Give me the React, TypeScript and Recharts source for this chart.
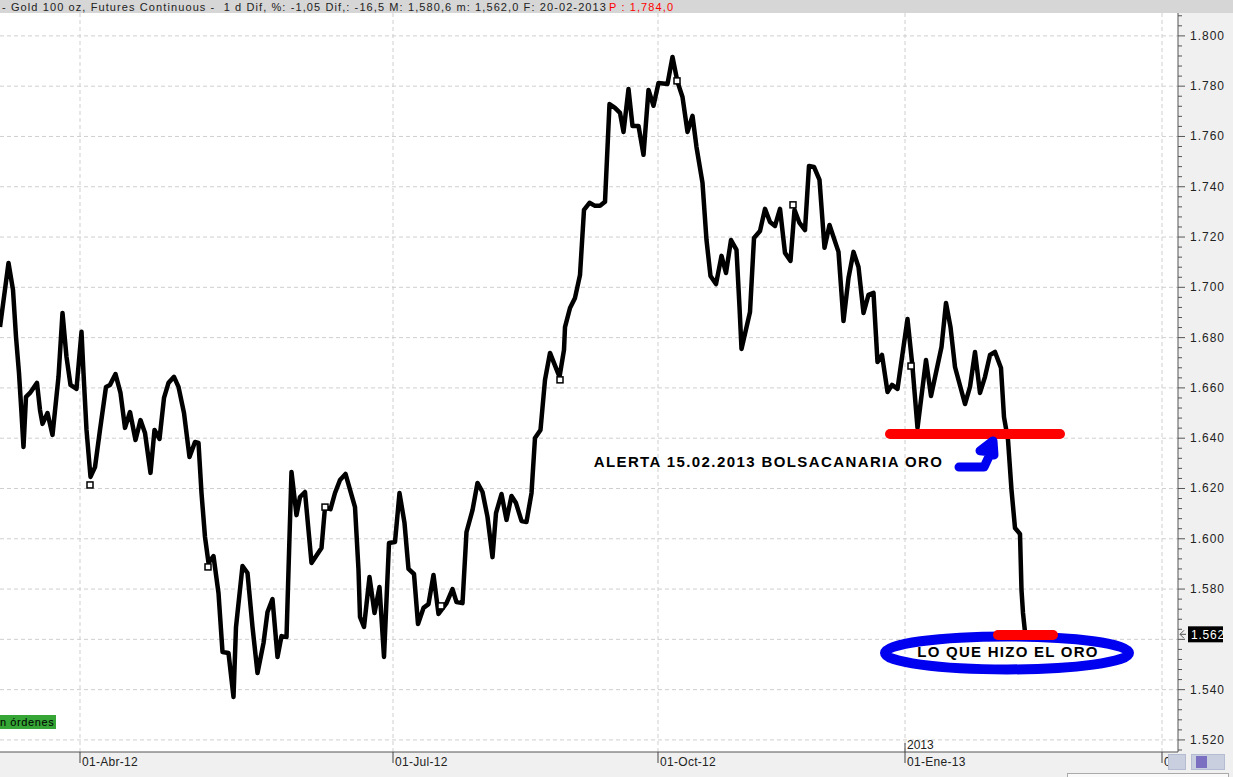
import React from "react";
import {
    ComposedChart, Line, XAxis, YAxis, CartesianGrid, ReferenceDot
} from "recharts";

// session position of every turning point of the close line
const sessions = [
    0, 1.7, 2.6, 3.2, 3.8, 4.3, 4.7, 5.2, 6, 7.4,
    8, 8.5, 9.5, 10.5, 11.7, 12.5, 13.3, 14.1, 15.3, 16.3,
    16.7, 17.3, 18.1, 19, 20, 21.2, 22, 23.1, 24.1, 25,
    26, 27.1, 28.1, 29, 30.1, 30.9, 31.9, 32.8, 33.7, 34.8,
    35.7, 36.8, 37.9, 39, 39.7, 40.3, 41, 41.7, 42.7, 43.7,
    44.5, 45.7, 46.7, 47.2, 48.5, 49.5, 50.5, 51.5, 52.7, 53.5,
    54.5, 55.5, 56.3, 57.3, 57.9, 58.3, 59.3, 60, 61, 62.3,
    64.3, 65, 66.1, 67, 68, 69.1, 71, 71.7, 72, 72.8,
    73.9, 74.9, 75.9, 76.8, 77.8, 79, 79.9, 80.9, 81.7, 82.8,
    83.6, 84.7, 85.7, 86.7, 87.7, 89.3, 90.5, 91.3, 92.5, 93.3,
    94.5, 95.5, 96.5, 97.5, 98.5, 99.2, 100.3, 101.3, 102.3, 103.2,
    104.3, 105.3, 106.3, 107, 108.1, 109, 110, 111.9, 112.8, 113,
    114, 115, 116, 116.8, 117.9, 119, 120, 121, 121.9, 123,
    124, 124.7, 125.7, 126.5, 127.7, 128.7, 129.7, 130.7, 131.7, 133.5,
    134.5, 135.5, 136.5, 137.5, 138.5, 139.3, 140.5, 141.3, 142.1, 143.2,
    144.3, 145.2, 146.2, 147.3, 147.9, 148.3, 150, 150.8, 152, 153,
    154, 155, 156, 157, 158.1, 158.9, 159.9, 161, 161.8, 162.8,
    163.9, 164.9, 165.9, 167.7, 168.7, 169.7, 170.7, 171.7, 172.7, 173.7,
    174.7, 175.5, 176.4, 177.5, 178.4, 179.5, 181.5, 182.5, 183.5, 185.2,
    186.2, 188.3, 189.2, 190.1, 191, 193, 194, 195, 196, 197,
    198, 199, 200.2, 200.8, 201.6, 202.3, 203, 204, 204.3, 204.6,
    205,
];

const prices = [
    1684.2, 1709.7, 1699, 1680.3, 1665.9, 1650, 1636.5, 1656.4, 1658, 1662,
    1651.2, 1645.7, 1650, 1641.3, 1664.4, 1689.8, 1672.3, 1661.2, 1659.6, 1682.3,
    1665.9, 1643.3, 1624.6, 1628.5, 1643.3, 1660.4, 1661.2, 1665.5, 1658, 1644.1,
    1650.4, 1639.3, 1647.2, 1642.1, 1626.2, 1643.3, 1639.7, 1656, 1662, 1664.4,
    1660.4, 1650, 1632.5, 1638.5, 1638.1, 1618.2, 1600.7, 1590.4, 1593.1, 1578.4,
    1555, 1554.6, 1537.1, 1564.9, 1589.2, 1586.4, 1564.9, 1546.6, 1558.5, 1570.9,
    1576, 1553, 1561.3, 1560.9, 1600.7, 1626.6, 1609.4, 1616.6, 1618.6, 1590.4,
    1596.3, 1612.6, 1611.8, 1618.2, 1623.4, 1625.8, 1612.6, 1587.6, 1568.9, 1564.9,
    1584.8, 1570.5, 1580.8, 1553, 1598.3, 1598.7, 1618.2, 1606.3, 1588, 1586,
    1566.1, 1572.5, 1574, 1585.6, 1570.1, 1574.4, 1580, 1574.8, 1574.4, 1602.7,
    1611.4, 1622.2, 1618.6, 1608.7, 1592.7, 1610.2, 1617.8, 1607.5, 1617, 1614.2,
    1607.1, 1606.7, 1618.2, 1640.1, 1643.3, 1663.2, 1673.9, 1664.4, 1675.1, 1684.2,
    1691.8, 1695.8, 1704.9, 1730.8, 1733.6, 1732.4, 1732.4, 1734, 1772.9, 1771.4,
    1769.4, 1761.8, 1778.9, 1764.2, 1764.2, 1752.7, 1778.5, 1772.2, 1781.3, 1780.9,
    1791.6, 1781.7, 1775.7, 1761.8, 1768.2, 1755.8, 1741.5, 1718.8, 1704.5, 1701.3,
    1712.5, 1705.7, 1718.8, 1714.9, 1692.2, 1675.5, 1690.2, 1719.6, 1722.4, 1731.2,
    1726, 1724.4, 1731.2, 1713.7, 1710.5, 1730.8, 1725.6, 1722.8, 1748.3, 1747.9,
    1742.7, 1715.7, 1724.8, 1714.1, 1686.6, 1703.7, 1714.1, 1708.1, 1689.8, 1697,
    1697.8, 1670.3, 1673.1, 1658.4, 1661.2, 1659.6, 1687.4, 1668.3, 1644.1, 1671.1,
    1656.8, 1676.3, 1693.8, 1684.2, 1668.3, 1653.6, 1660.4, 1674.3, 1658, 1664.4,
    1673.1, 1674.3, 1667.9, 1648.4, 1639.3, 1619.4, 1604.3, 1601.9, 1579.6, 1570.5,
    1562.9,
];

// little open squares sitting on the line
const orderSessions = [18, 41.6, 65, 88.2, 112, 135.4, 158.6, 182.2];
const orderPrices = [1621.4, 1588.8, 1612.6, 1573.3, 1663.2, 1782.1, 1732.8, 1668.7];

// hand drawn marks
const alertBar = [{ s: 178, v: 1641.7 }, { s: 212, v: 1641.7 }];
const arrowSessions = [191.8, 196.8, 198.2, 196, 198.6, 198.8];
const arrowPrices = [1628.5, 1628.5, 1634.5, 1635, 1638.9, 1633.3];

const dateTicks = [16, 78.6, 131.6, 181, 232.4];
const dateLabels = ["01-Abr-12", "01-Jul-12", "01-Oct-12", "01-Ene-13", "01-Abr-13"];
const priceLabels = [1520, 1540, 1560, 1580, 1600, 1620, 1640, 1660, 1680, 1700, 1720, 1740, 1760, 1780, 1800];
const priceTicks: number[] = [];
for (let p = 1516; p <= 1808; p += 4) priceTicks.push(p);

const lastPrice = 1562;
const xMax = 235.6;

const closeData = sessions.map((s, i) => ({ s, v: prices[i] }));
const orderData = orderSessions.map((s, i) => ({ s, v: orderPrices[i] }));
const arrowData = arrowSessions.map((s, i) => ({ s, v: arrowPrices[i] }));

const axisFont = "'Liberation Sans', Arial, sans-serif";

const PriceTick = ({ x, y, payload }: any) => {
    const major = priceLabels.includes(payload.value);
    // the black last price box sits over the 1.560 label
    const hidden = payload.value === 1560;
    return (
        <g>
            <line x1={x} x2={x + (major ? 7 : 4)} y1={y} y2={y} stroke="#555" />
            {major && !hidden && (
                <text x={x + 12} y={y + 4} fontSize={12} fontFamily={axisFont} letterSpacing={1} fill="#222">
                    {(payload.value / 1000).toFixed(3)}
                </text>
            )}
        </g>
    );
};

const DateTick = ({ x, y, payload }: any) => {
    const label = dateLabels[dateTicks.indexOf(payload.value)];
    const clipped = payload.value === 232.4;
    return (
        <g>
            <line x1={x} x2={x} y1={y} y2={y + 11} stroke="#444" />
            <text x={x + 2} y={y + 14} fontSize={12} fontFamily={axisFont} letterSpacing={0.3} fill="#222">
                {clipped ? "0" : label}
            </text>
            {payload.value === 181 && (
                <>
                    <line x1={x} x2={x} y1={y - 9} y2={y} stroke="#444" />
                    <text x={x + 2} y={y - 3} fontSize={12} fontFamily={axisFont} fill="#222">2013</text>
                </>
            )}
        </g>
    );
};

const OrderSquare = ({ cx, cy, index }: any) => (
    <rect key={index} x={cx - 3} y={cy - 3} width={6} height={6} fill="#fff" stroke="#000" strokeWidth={1.5} />
);

const Note = (text: string, size: number, spacing: number) => ({ cx, cy }: any) => (
    <text x={cx} y={cy + 5} textAnchor="middle" fontSize={size} fontWeight="bold"
        fontFamily={axisFont} letterSpacing={spacing} fill="#000">
        {text}
    </text>
);

const Ring = ({ cx, cy }: any) => (
    <ellipse cx={cx} cy={cy} rx={122} ry={16.5} fill="none" stroke="#0000f0" strokeWidth={10} />
);

const LowBar = ({ cx, cy }: any) => (
    <rect x={cx - 32.5} y={cy - 5} width={65} height={10} rx={5} fill="#ff0000" />
);

const LastPriceBox = ({ cx, cy }: any) => (
    <g>
        <path d={`M${cx + 8} ${cy} l-6 0 m0 0 l4 -4 m-4 4 l4 4`} stroke="#555" fill="none" />
        <rect x={cx + 10} y={cy - 8} width={35} height={16} fill="#000" />
        <text x={cx + 13} y={cy + 5} fontSize={12} fontFamily={axisFont} letterSpacing={0.8} fill="#fff">1.562</text>
    </g>
);

const App = () => {
    return (
        <div style={{ position: "fixed", left: 0, top: 0, width: 1233, height: 777, background: "#f0f0f0", overflow: "hidden" }}>
            <ComposedChart width={1233} height={777} margin={{ top: 13, right: 0, bottom: 0, left: 0 }}>
                <CartesianGrid
                    fill="#fff"
                    stroke="#cfcfcf"
                    strokeDasharray="4 3"
                    horizontalValues={priceLabels}
                    verticalValues={dateTicks}
                />
                <XAxis
                    type="number"
                    dataKey="s"
                    domain={[0, xMax]}
                    ticks={dateTicks}
                    tick={<DateTick />}
                    tickLine={false}
                    tickSize={0}
                    tickMargin={0}
                    stroke="#555"
                    height={25}
                    interval={0}
                    allowDataOverflow
                />
                <YAxis
                    type="number"
                    orientation="right"
                    dataKey="v"
                    domain={[1515.2, 1809.1]}
                    ticks={priceTicks}
                    tick={<PriceTick />}
                    tickLine={false}
                    tickSize={0}
                    tickMargin={0}
                    stroke="#555"
                    width={55}
                    interval={0}
                    allowDataOverflow
                />
                <Line data={orderData} dataKey="v" stroke="none" dot={<OrderSquare />} isAnimationActive={false} legendType="none" />
                <Line data={closeData} dataKey="v" stroke="#000" strokeWidth={4.5} strokeLinejoin="round" dot={false} isAnimationActive={false} />
                <Line data={alertBar} dataKey="v" stroke="#ff0000" strokeWidth={10} strokeLinecap="round" dot={false} isAnimationActive={false} />
                <Line data={arrowData} dataKey="v" stroke="#0000f0" strokeWidth={9} strokeLinecap="round" strokeLinejoin="round" dot={false} isAnimationActive={false} />
                <ReferenceDot x={201.4} y={1554.6} r={0} shape={Ring} />
                <ReferenceDot x={205.1} y={1561.7} r={0} shape={LowBar} />
                <ReferenceDot x={153.7} y={1630.5} r={0} shape={Note("ALERTA 15.02.2013 BOLSACANARIA ORO", 15, 1.4)} />
                <ReferenceDot x={201.6} y={1555} r={0} shape={Note("LO QUE HIZO EL ORO", 15, 1.25)} />
                <ReferenceDot x={xMax} y={lastPrice} r={0} shape={LastPriceBox} ifOverflow="visible" />
            </ComposedChart>

            <div style={{ position: "absolute", left: 0, top: 0, width: 1233, height: 13, background: "#d6d6d6", fontFamily: axisFont, fontSize: 11, lineHeight: "14px", letterSpacing: 1.1, color: "#222", whiteSpace: "pre" }}>
                <span style={{ position: "absolute", left: 2 }}>- Gold 100 oz, Futures Continuous -  1 d Dif, %: -1,05 Dif,: -16,5 M: 1,580,6 m: 1,562,0 F: 20-02-2013</span>
                <span style={{ position: "absolute", left: 609, color: "#f00" }}>P : 1,784,0</span>
            </div>

            <div style={{ position: "absolute", left: 0, top: 715, width: 56, height: 14, background: "#35a535", fontFamily: axisFont, fontSize: 11, lineHeight: "14px", letterSpacing: 0.6, color: "#000", whiteSpace: "pre" }}>n órdenes</div>

            <div style={{ position: "absolute", left: 1168, top: 754, width: 18, height: 16, background: "#c9cfdf", border: "1px solid #b5bbd0", boxSizing: "border-box" }} />
            <div style={{ position: "absolute", left: 1191, top: 754, width: 34, height: 16, background: "#c9cfdf", border: "1px solid #b5bbd0", boxSizing: "border-box" }} />
            <div style={{ position: "absolute", left: 1196, top: 756, width: 11, height: 12, background: "#7a6fc0" }} />
            <div style={{ position: "absolute", left: 1067, top: 773, width: 162, height: 4, background: "#fafafa", border: "1px solid #aaa", borderBottom: "none", boxSizing: "border-box" }} />
        </div>
    );
};

export default App;
